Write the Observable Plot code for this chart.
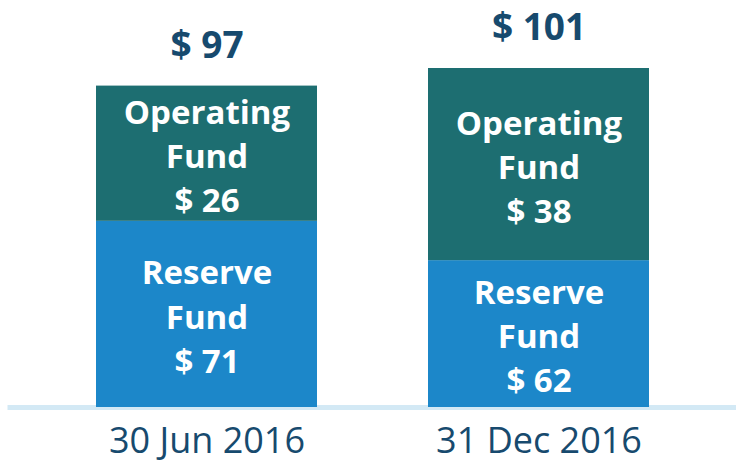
<!DOCTYPE html>
<html>
<head>
<meta charset="utf-8">
<script src="https://cdn.jsdelivr.net/npm/d3@7"></script>
<script src="https://cdn.jsdelivr.net/npm/@observablehq/plot@0.6"></script>
<style>
  html, body { margin: 0; padding: 0; background: #ffffff; }
  #chart { width: 736px; height: 464px; }
  svg text { font-variant-ligatures: none; }
</style>
</head>
<body>
<div id="chart"></div>
<script>
// ---- data ----
const dates = ["30 Jun 2016", "31 Dec 2016"];
const funds = ["Reserve Fund", "Operating Fund"];
const reserveValues = [71, 62];
const operatingValues = [26, 38];
const totalLabels = [97, 101];   // reported totals (rounded in source)
const fundColors = ["#1c87c9", "#1d6e71"];

// ---- derived tables ----
const stackTops = dates.map((d, i) => reserveValues[i] + operatingValues[i]);
const rows = [];
dates.forEach((d, i) => {
  rows.push({date: d, fund: funds[0], value: reserveValues[i], y1: 0, y2: reserveValues[i],
             label: "Reserve\nFund\n$ " + reserveValues[i]});
  rows.push({date: d, fund: funds[1], value: operatingValues[i], y1: reserveValues[i], y2: stackTops[i],
             label: "Operating\nFund\n$ " + operatingValues[i]});
});

const EXP = 1.75;
// midpoint in screen (transformed) space of the pow scale
const mid = d => Math.pow((Math.pow(d.y1, EXP) + Math.pow(d.y2, EXP)) / 2, 1 / EXP);

const navy = "#174a6e";
const font = "'Source Sans Pro', 'Open Sans', 'Noto Sans', sans-serif";

const chart = Plot.plot({
  width: 736,
  height: 464,
  marginTop: 68,
  marginBottom: 57,
  marginLeft: 39.5,
  marginRight: 30.5,
  style: {fontFamily: font, background: "#ffffff", overflow: "visible"},
  x: {domain: dates, paddingInner: 0.333, paddingOuter: 0.1667, label: null},
  y: {type: "pow", exponent: EXP, domain: [0, d3.max(stackTops)], axis: null},
  color: {domain: funds, range: fundColors},
  marks: [
    Plot.ruleY([0], {stroke: "#d3e9f5", strokeWidth: 5, insetLeft: -32, insetRight: -31}),
    Plot.barY(rows, {x: "date", y: "value", fill: "fund"}),
    Plot.text(rows, {x: "date", y: mid, text: "label", fill: "#ffffff",
      fontSize: 33, fontWeight: "bold", lineHeight: 1.34}),
    Plot.text(dates, {x: d => d, y: (d, i) => stackTops[i], text: (d, i) => "$ " + totalLabels[i],
      dy: -40, fontSize: 37, fontWeight: "bold", fill: navy}),
    Plot.axisX({tickSize: 0, tickPadding: 20, fontSize: 36, color: navy, label: null})
  ]
});
document.getElementById("chart").appendChild(chart);
</script>
</body>
</html>
